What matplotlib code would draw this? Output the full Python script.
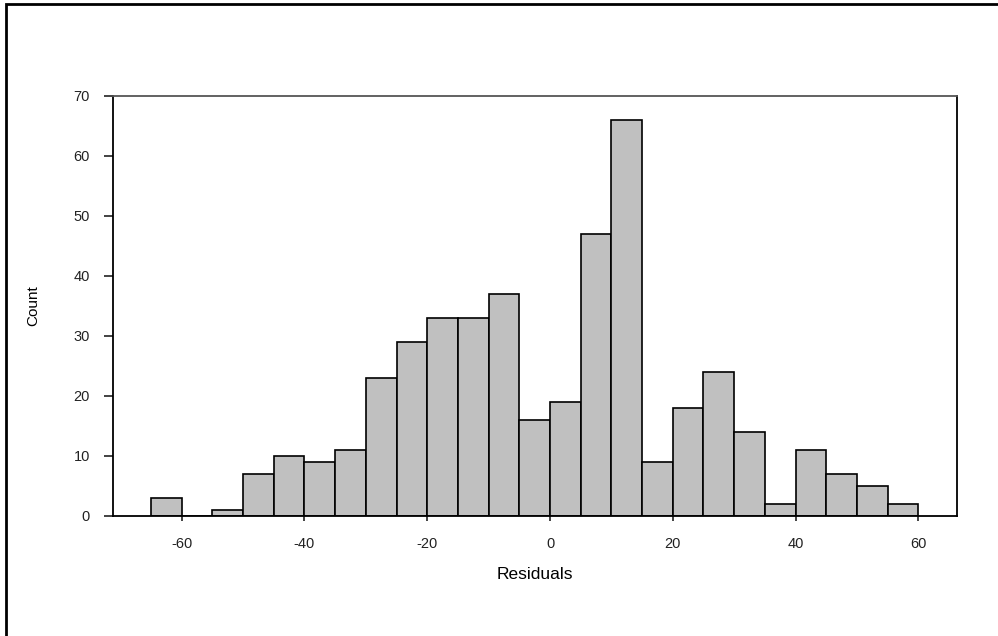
import numpy as np
import matplotlib
matplotlib.use("Agg")
import matplotlib.pyplot as plt
from matplotlib.patches import Rectangle

# histogram data: left bin edges (width 5) and counts
bin_lefts = [-65, -60, -55, -50, -45, -40, -35, -30, -25, -20, -15, -10, -5,
             0, 5, 10, 15, 20, 25, 30, 35, 40, 45, 50, 55]
counts = [3, 0, 1, 7, 10, 9, 11, 23, 29, 33, 33, 37, 16,
          19, 47, 66, 9, 18, 24, 14, 2, 11, 7, 5, 2]
bin_width = 5

xticks = [-60, -40, -20, 0, 20, 40, 60]
yticks = [0, 10, 20, 30, 40, 50, 60, 70]

plt.rcParams['font.family'] = ['Liberation Sans', 'DejaVu Sans']
plt.rcParams['axes.unicode_minus'] = False

fig = plt.figure(figsize=(9.98, 6.36), dpi=100)
ax = fig.add_axes([0.1129, 0.1887, 0.8457, 0.6604])

ax.bar(bin_lefts, counts, width=bin_width, align='edge',
       color='#c0c0c0', edgecolor='black', linewidth=1.2)

ax.set_xlim(-71.25, 66.25)
ax.set_ylim(0, 70)
ax.set_xticks(xticks)
ax.set_yticks(yticks)
ax.tick_params(axis='both', direction='out', labelsize=10.5, colors='#222222')
ax.tick_params(axis='y', length=6.3, width=1.2, pad=10)
ax.tick_params(axis='x', length=3.8, width=1.2, pad=11)

for side in ['left', 'bottom', 'right']:
    ax.spines[side].set_color('black')
    ax.spines[side].set_linewidth(1.3)
ax.spines['top'].set_color('#555555')
ax.spines['top'].set_linewidth(1.3)

ax.set_xlabel('Residuals', fontsize=12.5, labelpad=12)
ax.set_ylabel('Count', fontsize=11, labelpad=24)

# outer frame (cut off at right and bottom)
fig.patches.append(Rectangle((0.006, -0.1), 1.2, 1.094, transform=fig.transFigure,
                             fill=False, edgecolor='black', linewidth=2))

fig.savefig('out.png', dpi=100)
